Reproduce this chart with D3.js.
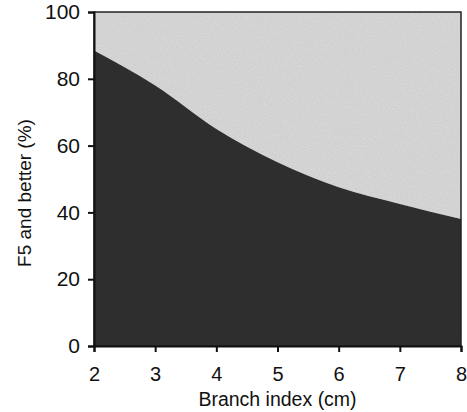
<!DOCTYPE html>
<html>
<head>
<meta charset="utf-8">
<script src="https://cdn.jsdelivr.net/npm/d3@7"></script>
<style>
  body { margin: 0; background: #fff; }
  svg { display: block; font-family: "Liberation Sans", Arial, sans-serif; }
</style>
</head>
<body>
<div id="chart"></div>
<script>
const branchIndex = [2, 3, 4, 5, 6, 7, 8];
const f5Better = [88.5, 78, 65, 55, 47.5, 42.5, 38];
const xTicks = [2, 3, 4, 5, 6, 7, 8];
const yTicks = [0, 20, 40, 60, 80, 100];

const W = 467, H = 412;
const MARGIN = { top: 12, right: 6, bottom: 66, left: 94 };
const iw = W - MARGIN.left - MARGIN.right;
const ih = H - MARGIN.top - MARGIN.bottom;

const svg = d3.select('#chart').append('svg')
  .attr('width', W)
  .attr('height', H);

// grain texture like the scanned print
const defs = svg.append('defs');
const grain = defs.append('filter').attr('id', 'grain')
  .attr('x', 0).attr('y', 0).attr('width', 1).attr('height', 1);
grain.append('feTurbulence')
  .attr('type', 'fractalNoise')
  .attr('baseFrequency', 0.9)
  .attr('numOctaves', 2)
  .attr('seed', 3)
  .attr('result', 'noise');
grain.append('feColorMatrix')
  .attr('in', 'noise')
  .attr('type', 'matrix')
  .attr('values', '0 0 0 0 0  0 0 0 0 0  0 0 0 0 0  0 0 0 0.18 0')
  .attr('result', 'dots');
grain.append('feComposite')
  .attr('in', 'dots')
  .attr('in2', 'SourceGraphic')
  .attr('operator', 'atop');

const x = d3.scaleLinear().domain([2, 8]).range([0, iw]);
const y = d3.scaleLinear().domain([0, 100]).range([ih, 0]);

const g = svg.append('g')
  .attr('transform', 'translate(' + MARGIN.left + ',' + MARGIN.top + ')');

const pts = branchIndex.map((d, i) => ({ x: d, v: f5Better[i] }));

const upper = d3.area()
  .x(d => x(d.x))
  .y0(d => y(d.v))
  .y1(y(100))
  .curve(d3.curveMonotoneX);

const lower = d3.area()
  .x(d => x(d.x))
  .y0(y(0))
  .y1(d => y(d.v))
  .curve(d3.curveMonotoneX);

g.append('path')
  .datum(pts)
  .attr('d', upper)
  .attr('fill', '#dcdcdc')
  .attr('filter', 'url(#grain)');

g.append('path')
  .datum(pts)
  .attr('d', lower)
  .attr('fill', '#303030')
  .attr('filter', 'url(#grain)');

// frame
g.append('rect')
  .attr('x', 0).attr('y', 0)
  .attr('width', iw).attr('height', ih)
  .attr('fill', 'none')
  .attr('stroke', '#222')
  .attr('stroke-width', 1.5);

const fmt = d3.format('d');

const yAxis = g.append('g')
  .call(d3.axisLeft(y).tickValues(yTicks).tickFormat(fmt).tickSize(6).tickPadding(8));
yAxis.select('.domain').attr('stroke', '#111').attr('stroke-width', 2);
yAxis.selectAll('.tick line').attr('stroke', '#111').attr('stroke-width', 2);
yAxis.selectAll('text')
  .attr('font-size', 21)
  .attr('fill', '#111')
  .attr('font-family', '"Liberation Sans", Arial, sans-serif');

const xAxis = g.append('g')
  .attr('transform', 'translate(0,' + ih + ')')
  .call(d3.axisBottom(x).tickValues(xTicks).tickFormat(fmt).tickSize(6).tickPadding(15));
xAxis.select('.domain').attr('stroke', '#111').attr('stroke-width', 2);
xAxis.selectAll('.tick line').attr('stroke', '#111').attr('stroke-width', 2);
xAxis.selectAll('text')
  .attr('font-size', 20)
  .attr('fill', '#111')
  .attr('font-family', '"Liberation Sans", Arial, sans-serif');

svg.append('text')
  .attr('x', MARGIN.left + iw / 2)
  .attr('y', 406)
  .attr('text-anchor', 'middle')
  .attr('font-size', 19.5)
  .attr('fill', '#111')
  .text('Branch index (cm)');

svg.append('text')
  .attr('transform', 'translate(31,193) rotate(-90)')
  .attr('text-anchor', 'middle')
  .attr('font-size', 19)
  .attr('fill', '#111')
  .text('F5 and better (%)');
</script>
</body>
</html>
